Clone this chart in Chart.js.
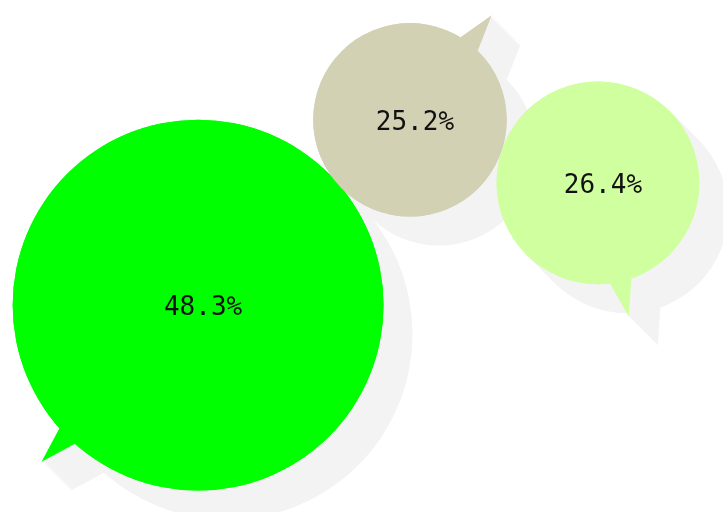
<!DOCTYPE html>
<html>
<head>
<meta charset="utf-8">
<script src="https://cdn.jsdelivr.net/npm/chart.js@4/dist/chart.umd.min.js"></script>
<style>
  html, body { margin: 0; padding: 0; background: #fff; }
  #wrap { width: 723px; height: 512px; }
</style>
</head>
<body>
<div id="wrap"><canvas id="bubbles"></canvas></div>
<script>
// Valores de cada burbuja (porcentaje)
const shares = [48.3, 25.2, 26.4];
// Posición de cada burbuja en el plano (0-100)
const posX = [27.4, 56.7, 82.7];
const posY = [40.4, 76.6, 64.3];
// Hacia dónde apunta la "cola" del globo (grados, sentido pantalla)
const tailAngles = [135, -52, 77];
const colors = ['#00ff00', '#d3d1b4', '#cfff9f'];

const SHADOW = '#f3f3f3';
const SHADOW_OFFSET = 29;
const TAIL_LEN = 36;
const TAIL_HALF = 11;

// Trazo del globo: círculo + cola triangular
function bubblePath(ctx, x, y, r, angle) {
    const a = angle * Math.PI / 180;
    const w = TAIL_HALF / r;
    ctx.beginPath();
    ctx.arc(x, y, r, 0, Math.PI * 2);
    ctx.moveTo(x + Math.cos(a - w) * r, y + Math.sin(a - w) * r);
    ctx.lineTo(x + Math.cos(a) * (r + TAIL_LEN), y + Math.sin(a) * (r + TAIL_LEN));
    ctx.lineTo(x + Math.cos(a + w) * r, y + Math.sin(a + w) * r);
    ctx.closePath();
}

const speechBubbles = {
    id: 'speechBubbles',
    beforeDatasetsDraw(chart) {
        const ctx = chart.ctx;
        const meta = chart.getDatasetMeta(0);
        ctx.save();
        // Sombras primero (barrido diagonal)
        ctx.fillStyle = SHADOW;
        meta.data.forEach((el, i) => {
            const r = el.options.radius;
            for (let t = 1; t <= SHADOW_OFFSET; t++) {
                bubblePath(ctx, el.x + t, el.y + t, r, tailAngles[i]);
                ctx.fill('nonzero');
            }
        });
        // Colas en el color de cada burbuja
        meta.data.forEach((el, i) => {
            ctx.fillStyle = colors[i];
            bubblePath(ctx, el.x, el.y, el.options.radius, tailAngles[i]);
            ctx.fill('nonzero');
        });
        ctx.restore();
    },
    afterDatasetsDraw(chart) {
        const ctx = chart.ctx;
        const meta = chart.getDatasetMeta(0);
        ctx.save();
        ctx.font = '26px "DejaVu Sans Mono", "Liberation Mono", monospace';
        ctx.fillStyle = '#111';
        ctx.textAlign = 'center';
        ctx.textBaseline = 'middle';
        meta.data.forEach((el, i) => {
            ctx.fillText(shares[i].toFixed(1) + '%', el.x + 5, el.y + 3);
        });
        ctx.restore();
    }
};

const bubbleChart = new Chart(document.getElementById('bubbles'), {
    type: 'bubble',
    data: {
        datasets: [{
            data: shares.map((v, i) => ({ x: posX[i], y: posY[i], v: v })),
            backgroundColor: colors,
            borderWidth: 0,
            hoverBorderWidth: 0,
            radius: ctx => ctx.raw ? ctx.raw.v * ctx.chart.width * 0.00531 : 0,
            clip: false
        }]
    },
    options: {
        responsive: true,
        maintainAspectRatio: false,
        animation: false,
        events: [],
        layout: { padding: 0, autoPadding: false },
        plugins: {
            legend: { display: false },
            tooltip: { enabled: false }
        },
        scales: {
            x: { display: false, min: 0, max: 100 },
            y: { display: false, min: 0, max: 100 }
        }
    },
    plugins: [speechBubbles]
});
</script>
</body>
</html>
